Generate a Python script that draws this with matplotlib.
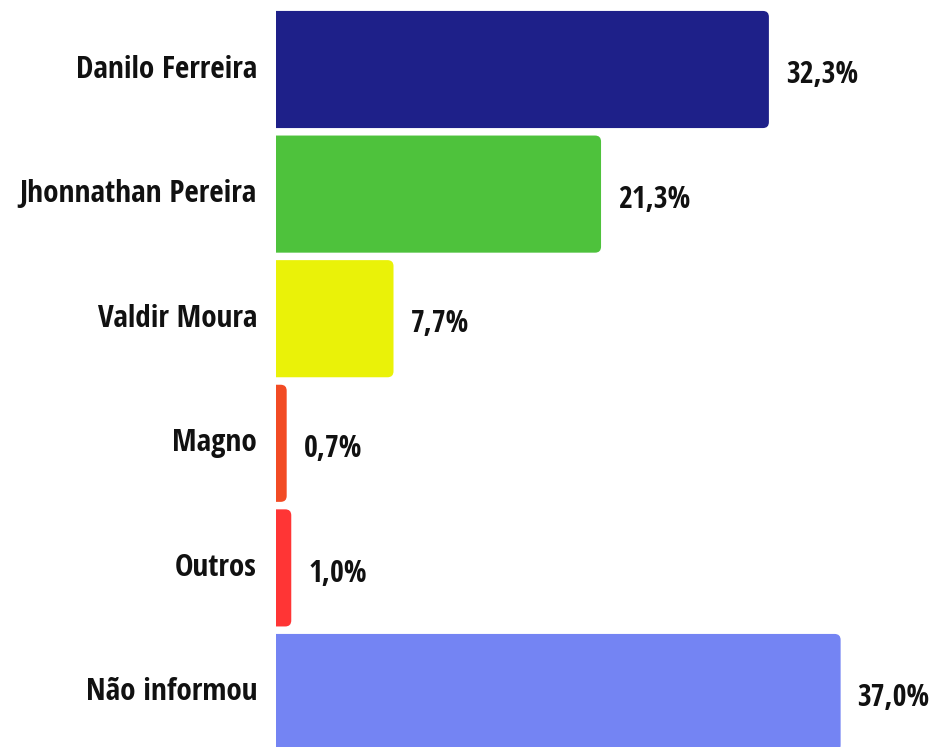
import matplotlib
matplotlib.use('Agg')
import matplotlib.pyplot as plt
from matplotlib import font_manager
from matplotlib.patches import FancyBboxPatch

# dados
categories = ['Danilo Ferreira', 'Jhonnathan Pereira', 'Valdir Moura', 'Magno', 'Outros', 'Não informou']
values = [32.3, 21.3, 7.7, 0.7, 1.0, 37.0]
labels = ['32,3%', '21,3%', '7,7%', '0,7%', '1,0%', '37,0%']
colors = ['#1e2089', '#4ec23c', '#eaf208', '#f24b24', '#ff3535', '#7484f3']


def weight_num(w):
    if isinstance(w, str):
        return font_manager.weight_dict.get(w, 400)
    return w


# fonte condensada em negrito, se houver
cands = [f for f in font_manager.fontManager.ttflist
         if ('Condensed' in f.name or 'Narrow' in f.name or f.stretch in ('condensed', 'semi-condensed'))
         and weight_num(f.weight) >= 600 and f.style == 'normal']
cands.sort(key=lambda f: (0 if 'Open Sans' in f.name else 1, abs(weight_num(f.weight) - 700)))
if cands:
    fp_cat = font_manager.FontProperties(fname=cands[0].fname, size=22.5)
    fp_val = font_manager.FontProperties(fname=cands[0].fname, size=21.5)
else:
    fp_cat = font_manager.FontProperties(family='Open Sans', weight='bold', size=19)
    fp_val = font_manager.FontProperties(family='Open Sans', weight='bold', size=18)

W, H = 934, 747
fig = plt.figure(figsize=(W / 100, H / 100), dpi=100)
left = 276
ax = fig.add_axes([left / W, 0, 1 - left / W, 1])

px_x = 15.26    # px por ponto percentual
pitch = 124.6   # px por barra
ax.set_xlim(0, (W - left) / px_x)
ax.set_ylim((H - 69.5) / pitch, -69.5 / pitch)
ax.axis('off')

bars = ax.barh(range(len(values)), values, height=0.94)
r = 6 / px_x
aspect = px_x / pitch
for b, c in zip(bars, colors):
    x, y = b.get_x(), b.get_y()
    w, h = b.get_width(), b.get_height()
    b.remove()
    # começa antes do eixo para esconder os cantos esquerdos
    p = FancyBboxPatch((x - 2 * r, y), w + 2 * r, h,
                       boxstyle=f'round,pad=0,rounding_size={r}',
                       mutation_aspect=aspect, fc=c, ec='none', clip_on=True)
    ax.add_patch(p)

for i, (v, lab) in enumerate(zip(values, labels)):
    ax.text(v + 17 / px_x, i + 0.045, lab, ha='left', va='center',
            fontproperties=fp_val, color='#111111')
    ax.text(-19 / px_x, i, categories[i], ha='right', va='center',
            fontproperties=fp_cat, color='#111111', clip_on=False)

fig.savefig('out.png', dpi=100)
